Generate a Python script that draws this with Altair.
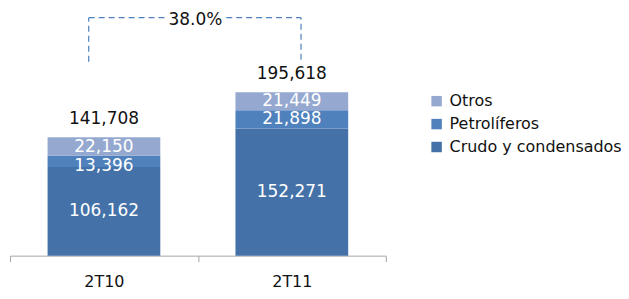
import altair as alt
import pandas as pd

periods = ["2T10", "2T11"]
series = ["Crudo y condensados", "Petrolíferos", "Otros"]
crudo = [106162, 152271]
petro = [13396, 21898]
otros = [22150, 21449]
totals = [141708, 195618]
growth_label = "38.0%"

colors = ["#95A8D0", "#4F81BD", "#4472A8"]  # Otros, Petrolíferos, Crudo
legend_order = ["Otros", "Petrolíferos", "Crudo y condensados"]

rows = []
for i, p in enumerate(periods):
    for j, (s, vals) in enumerate(zip(series, [crudo, petro, otros])):
        rows.append({"period": p, "serie": s, "value": vals[i], "ord": j,
                     "label": f"{vals[i]:,}"})
df = pd.DataFrame(rows)
tot_df = pd.DataFrame({"period": periods, "total": totals,
                       "label": [f"{t:,}" for t in totals]})

FONT = "DejaVu Sans"
YMAX = 296000

x_band = alt.X("period:N", sort=periods, title=None,
               scale=alt.Scale(paddingInner=0, paddingOuter=0),
               axis=alt.Axis(labelAngle=0, labelFontSize=16, labelFont=FONT,
                             labelColor="#111111", domainColor="#A6A6A6",
                             tickColor="#A6A6A6", tickSize=6, tickBand="extent",
                             labelPadding=12, grid=False))
y_scale = alt.Scale(domain=[0, YMAX], nice=False)

base = alt.Chart(df)

bars = base.mark_bar(stroke=None, width=alt.RelativeBandSize(0.6)).encode(
    x=x_band,
    y=alt.Y("value:Q", stack="zero", scale=y_scale, axis=None),
    color=alt.Color("serie:N",
                    scale=alt.Scale(domain=legend_order, range=colors),
                    sort=legend_order,
                    legend=alt.Legend(title=None, orient="none", legendX=420,
                                      legendY=85, labelFont=FONT, labelFontSize=16,
                                      labelColor="#111111", symbolType="square",
                                      symbolSize=110, symbolStrokeWidth=0,
                                      rowPadding=7, labelOffset=5, labelLimit=300)),
    order=alt.Order("ord:Q", sort="ascending"),
)

seg_labels = base.transform_stack(
    stack="value", groupby=["period"], as_=["y0", "y1"],
    sort=[alt.SortField("ord", order="ascending")]
).transform_calculate(
    pos="(datum.y1 - datum.y0) < 15000 ? datum.y0 + 800 : (datum.y0 + datum.y1) / 2"
).mark_text(
    color="white", font=FONT, fontSize=17, baseline="middle"
).encode(x=x_band, y=alt.Y("pos:Q", scale=y_scale, axis=None), text="label:N")

tot_labels = alt.Chart(tot_df).mark_text(
    color="#111111", font=FONT, fontSize=17, baseline="middle", dy=-18
).encode(x=x_band, y=alt.Y("total:Q", scale=y_scale, axis=None), text="label:N")

# growth bracket, x in category units (0..2 across the axis)
br_v = pd.DataFrame({"x": [0.419, 1.549], "y0": [232300, 234700], "y1": [285000, 285000]})
br_h = pd.DataFrame({"x": [0.419, 1.151], "x2": [0.828, 1.549], "y": [285000, 285000]})
br_t = pd.DataFrame({"x": [0.987], "y": [282500], "t": [growth_label]})
xq = alt.Scale(domain=[0, 2], nice=False, zero=False)
dash = dict(color="#4F81BD", strokeDash=[6, 4], strokeWidth=1.2)

vlines = alt.Chart(br_v).mark_rule(**dash).encode(
    x=alt.X("x:Q", scale=xq, axis=None),
    y=alt.Y("y0:Q", scale=y_scale, axis=None), y2="y1:Q")
hlines = alt.Chart(br_h).mark_rule(**dash).encode(
    x=alt.X("x:Q", scale=xq, axis=None), x2="x2:Q",
    y=alt.Y("y:Q", scale=y_scale, axis=None))
gtext = alt.Chart(br_t).mark_text(
    color="#111111", font=FONT, fontSize=17, baseline="middle"
).encode(x=alt.X("x:Q", scale=xq, axis=None),
         y=alt.Y("y:Q", scale=y_scale, axis=None), text="t:N")

main = alt.layer(bars, seg_labels, tot_labels)
ann = alt.layer(vlines, hlines, gtext)

chart = alt.layer(main, ann).resolve_scale(x="independent").properties(
    width=377, height=248, background="white",
    padding={"left": 2, "top": 0, "right": 236, "bottom": 35},
    autosize=alt.AutoSizeParams(type="none"),
).configure_view(strokeWidth=0, stroke="transparent")

chart.save("out.html", embed_options={"renderer": "svg", "actions": False})
